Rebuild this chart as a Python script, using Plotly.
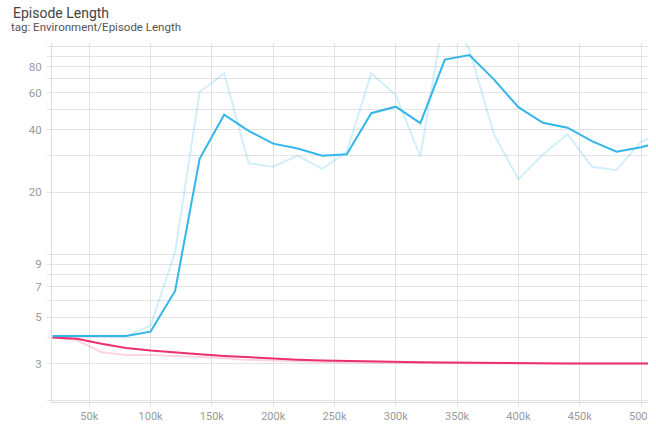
import plotly.graph_objects as go

# Training steps at which the episode length was logged
steps = [20000, 40000, 60000, 80000, 100000, 120000, 140000, 160000, 180000,
         200000, 220000, 240000, 260000, 280000, 300000, 320000, 340000,
         360000, 380000, 400000, 420000, 440000, 460000, 480000, 500000, 520000]

# Run A (blue): raw and smoothed episode length
run_a_raw = [4.07, 4.07, 4.08, 4.06, 4.57, 10.3, 60.6, 74.5, 27.5, 26.5, 30.0,
             25.9, 31.2, 74.5, 58.6, 29.6, 150.0, 97.0, 38.0, 23.1, 30.3, 38.0,
             26.5, 25.5, 35.0, 39.0]
run_a_smooth = [4.07, 4.07, 4.08, 4.07, 4.27, 6.7, 28.9, 47.1, 39.4, 34.2, 32.4,
                29.9, 30.4, 47.9, 51.5, 42.9, 86.7, 91.2, 69.7, 51.2, 43.1, 40.8,
                35.2, 31.3, 32.9, 35.3]

# Run B (pink): raw and smoothed episode length
run_b_raw = [4.0, 3.88, 3.4, 3.3, 3.3, 3.27, 3.22, 3.18, 3.12, 3.1, 3.07, 3.05,
             3.04, 3.03, 3.02, 3.01, 3.01, 3.0, 3.0, 3.0, 3.0, 3.0, 3.0, 3.0,
             3.0, 3.0]
run_b_smooth = [4.0, 3.95, 3.73, 3.56, 3.46, 3.38, 3.32, 3.26, 3.21, 3.17, 3.13,
                3.10, 3.08, 3.06, 3.05, 3.04, 3.03, 3.02, 3.01, 3.01, 3.01, 3.0,
                3.0, 3.0, 3.0, 3.0]

# Axis ticks
y_tick_vals = [2, 3, 4, 5, 6, 7, 8, 9, 10, 20, 30, 40, 50, 60, 70, 80, 90, 100]
y_tick_text = ["", "3", "", "5", "", "7", "", "9", "", "20", "", "40", "", "60",
               "", "80", "", ""]
x_tick_vals = [50000, 100000, 150000, 200000, 250000, 300000, 350000, 400000,
               450000, 500000]
x_tick_text = ["50k", "100k", "150k", "200k", "250k", "300k", "350k", "400k",
               "450k", "500<span style='color:rgba(0,0,0,0)'>k</span>"]

BLUE = "rgb(51,182,234)"
BLUE_LIGHT = "rgba(51,182,234,0.22)"
PINK = "rgb(236,48,110)"
PINK_LIGHT = "rgba(236,48,110,0.2)"

fig = go.Figure()
fig.add_trace(go.Scatter(x=steps, y=run_a_raw, mode="lines",
                         line=dict(color=BLUE_LIGHT, width=2), showlegend=False))
fig.add_trace(go.Scatter(x=steps, y=run_b_raw, mode="lines",
                         line=dict(color=PINK_LIGHT, width=2), showlegend=False))
fig.add_trace(go.Scatter(x=steps, y=run_b_smooth, mode="lines",
                         line=dict(color=PINK, width=2), showlegend=False))
fig.add_trace(go.Scatter(x=steps, y=run_a_smooth, mode="lines",
                         line=dict(color=BLUE, width=2), showlegend=False))

W, H = 656, 427
L, R, T, B = 52, 8, 43, 25
plot_w = W - L - R
plot_h = H - T - B

fig.update_layout(
    width=W, height=H,
    margin=dict(l=L, r=R, t=T, b=B, autoexpand=False),
    paper_bgcolor="white", plot_bgcolor="white",
    font=dict(family="Roboto", color="#9a9a9a", size=11),
    title=dict(text="Episode Length", x=13 / W, xanchor="left", xref="container",
               y=1 - 13 / H, yanchor="middle", yref="container",
               font=dict(family="Roboto", size=14, color="#444444")),
    annotations=[dict(text="tag: Environment/Episode Length", xref="paper",
                      yref="paper", x=(13 - L) / plot_w, y=(H - B - 27) / plot_h,
                      xanchor="left", yanchor="middle", showarrow=False,
                      xshift=-3, borderpad=0,
                      font=dict(family="Roboto", size=11.5, color="#555555"))],
    xaxis=dict(range=[19600, 505700], tickvals=x_tick_vals, ticktext=x_tick_text,
               automargin=False,
               showgrid=True, gridcolor="#e3e3e3", gridwidth=1,
               showline=True, linecolor="#dddddd", linewidth=1,
               ticks="outside", ticklen=4, tickcolor="#e3e3e3",
               zeroline=False, tickfont=dict(size=11, color="#9a9a9a")),
    yaxis=dict(type="log", range=[0.292, 2.018], tickvals=y_tick_vals,
               ticktext=y_tick_text, automargin=False,
               showgrid=True, gridcolor="#e3e3e3",
               gridwidth=1, showline=True, linecolor="#dddddd", linewidth=1,
               ticks="outside", ticklen=4, tickcolor="#e3e3e3",
               ticklabelstandoff=3, zeroline=False,
               tickfont=dict(size=11.5, color="#9a9a9a")),
)

fig.write_html("out.html")
